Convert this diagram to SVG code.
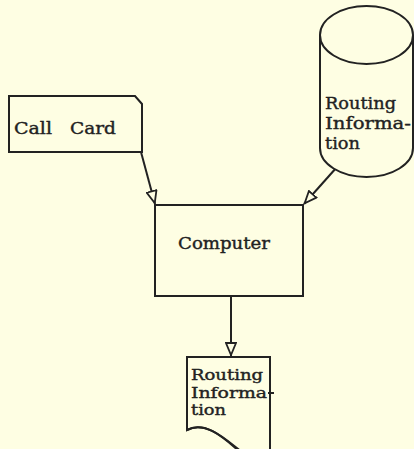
<svg xmlns="http://www.w3.org/2000/svg" width="414" height="449" viewBox="0 0 414 449">
<defs>
<style>
.s{fill:none;stroke:#222;stroke-width:2;stroke-linejoin:round}
.f{fill:#FEFEE3;stroke:#222;stroke-width:2}
.t{font-family:"DejaVu Serif",serif;font-size:17px;fill:#222;stroke:#222;stroke-width:0.4}
.d{font-size:15px}
</style>
<marker id="ah" viewBox="0 0 14 12" refX="14" refY="6" markerWidth="14" markerHeight="12" markerUnits="userSpaceOnUse" orient="auto">
<path d="M1,1 L13,6 L1,11 Z" fill="#FEFEE3" stroke="#222" stroke-width="1.8"/>
</marker>
</defs>
<rect width="414" height="449" fill="#FEFEE3"/>
<g id="connectors">
<line class="s" x1="141" y1="152" x2="155" y2="204" marker-end="url(#ah)"/>
<line class="s" x1="337" y1="167" x2="304" y2="204" marker-end="url(#ah)"/>
<line class="s" x1="231" y1="296" x2="231" y2="356" marker-end="url(#ah)"/>
</g>
<g id="callcard">
<path class="f" d="M9,96 H135 L142,104 V152 H9 Z"/>
<text class="t" x="14" y="134" textLength="38" lengthAdjust="spacingAndGlyphs">Call</text>
<text class="t" x="70" y="134" textLength="46" lengthAdjust="spacingAndGlyphs">Card</text>
</g>
<g id="routing-db">
<path class="f" d="M320,35 V148 A46.5,29 0 0 0 413,148 V35"/>
<ellipse class="f" cx="366.5" cy="35" rx="46.5" ry="29"/>
<text class="t" x="325" y="109" textLength="71" lengthAdjust="spacingAndGlyphs">Routing</text>
<text class="t" x="325" y="129" textLength="86" lengthAdjust="spacingAndGlyphs">Informa-</text>
<text class="t" x="325" y="149" textLength="35" lengthAdjust="spacingAndGlyphs">tion</text>
</g>
<g id="computer">
<rect class="f" x="155" y="205" width="148" height="91"/>
<text class="t" x="178" y="249" textLength="92" lengthAdjust="spacingAndGlyphs">Computer</text>
</g>
<g id="routing-doc">
<path class="f" d="M187,357 H270 V460 H240 L240,452 C226,440 206,420 187,430 Z"/>
<path class="s" d="M187,430 C206,420 226,440 242,452"/>
<text class="t d" x="191" y="380" textLength="72" lengthAdjust="spacingAndGlyphs">Routing</text>
<text class="t d" x="191" y="398" textLength="76" lengthAdjust="spacingAndGlyphs">Informa</text>
<line class="s" x1="268" y1="393" x2="274" y2="393"/>
<text class="t d" x="191" y="415" textLength="35" lengthAdjust="spacingAndGlyphs">tion</text>
</g>
</svg>
